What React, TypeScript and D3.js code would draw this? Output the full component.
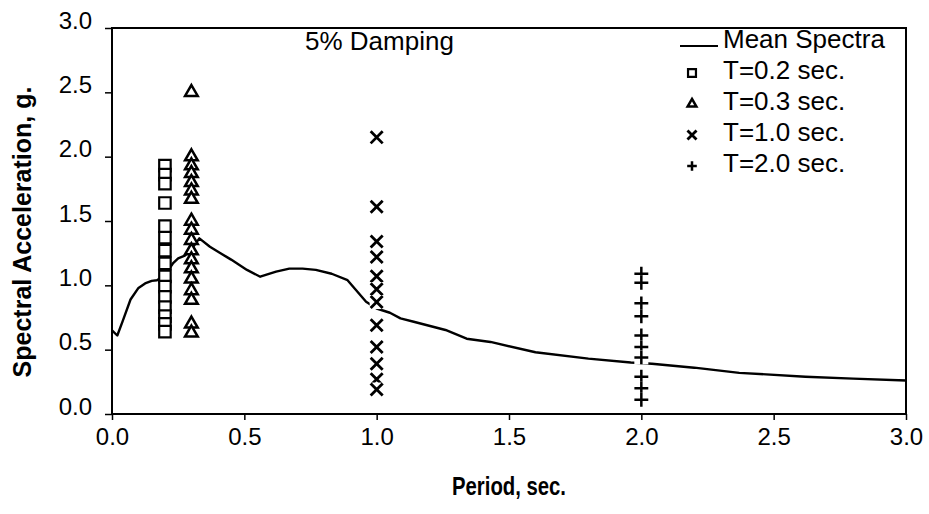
import React, { useRef, useEffect } from 'react';
import * as d3 from 'd3';

// mean spectrum (period in sec, spectral acceleration in g)
const meanPeriods = [0, 0.02, 0.04, 0.07, 0.1, 0.125, 0.15, 0.17, 0.2, 0.23, 0.25, 0.275, 0.3, 0.33, 0.37, 0.41, 0.45, 0.51, 0.56, 0.62, 0.67, 0.72, 0.77, 0.83, 0.89, 0.96, 1.0, 1.05, 1.09, 1.14, 1.26, 1.34, 1.43, 1.6, 1.8, 1.96, 2.04, 2.2, 2.37, 2.62, 2.8, 3.0];
const meanSa = [0.65, 0.61, 0.72, 0.89, 0.98, 1.015, 1.035, 1.04, 1.08, 1.17, 1.21, 1.23, 1.28, 1.365, 1.3, 1.25, 1.2, 1.12, 1.067, 1.106, 1.13, 1.13, 1.12, 1.09, 1.04, 0.873, 0.82, 0.787, 0.743, 0.717, 0.653, 0.585, 0.56, 0.48, 0.43, 0.4, 0.39, 0.36, 0.32, 0.29, 0.275, 0.26];

// individual records at each period
const sa02 = [1.93, 1.86, 1.79, 1.64, 1.46, 1.37, 1.27, 1.17, 1.07, 0.99, 0.91, 0.83, 0.76, 0.7, 0.64];
const sa03 = [2.5, 2.0, 1.93, 1.87, 1.8, 1.735, 1.67, 1.5, 1.43, 1.35, 1.27, 1.2, 1.13, 1.05, 0.96, 0.885, 0.7, 0.63];
const sa10 = [2.15, 1.61, 1.34, 1.22, 1.07, 0.97, 0.87, 0.69, 0.52, 0.39, 0.27, 0.19];
const sa20 = [1.09, 1.02, 0.86, 0.76, 0.61, 0.52, 0.44, 0.29, 0.2, 0.11];

const tickValues = [0, 0.5, 1, 1.5, 2, 2.5, 3];
const legendLabels = ['Mean Spectra', 'T=0.2 sec.', 'T=0.3 sec.', 'T=1.0 sec.', 'T=2.0 sec.'];

const FONT = 'Liberation Sans, Arial, Helvetica, sans-serif';

const App = () => {
  const chartRef = useRef<SVGSVGElement>(null);

  useEffect(() => {
    const margin = { top: 28, right: 23, bottom: 100, left: 112 };
    const width = 929 - margin.left - margin.right;
    const height = 514 - margin.top - margin.bottom;

    const root = d3.select(chartRef.current);
    root.selectAll('*').remove();

    const svg = root
      .append('g')
      .attr('transform', `translate(${margin.left}, ${margin.top})`);

    const x = d3.scaleLinear().domain([0, 3]).range([0, width]);
    const y = d3.scaleLinear().domain([0, 3]).range([height, 0]);
    const fmt = d3.format('.1f');

    // y axis
    svg
      .append('g')
      .call(d3.axisLeft(y).tickValues(tickValues).tickFormat(fmt).tickSize(7).tickSizeOuter(0).tickPadding(13))
      .call((g) => g.select('.domain').remove())
      .call((g) => g.selectAll('.tick line').attr('stroke', '#000').attr('stroke-width', 1.5))
      .call((g) =>
        g
          .selectAll('text')
          .attr('dy', '0')
          .attr('fill', '#000')
          .attr('font-size', 24)
          .attr('font-family', FONT)
      );

    // x axis
    svg
      .append('g')
      .attr('transform', `translate(0, ${height})`)
      .call(d3.axisBottom(x).tickValues(tickValues).tickFormat(fmt).tickSize(6).tickSizeOuter(0).tickPadding(25))
      .call((g) => g.select('.domain').remove())
      .call((g) => g.selectAll('.tick line').attr('stroke', '#000').attr('stroke-width', 1.5))
      .call((g) =>
        g
          .selectAll('text')
          .attr('dy', '0')
          .attr('fill', '#000')
          .attr('font-size', 24)
          .attr('font-family', FONT)
      );

    // frame
    svg
      .append('rect')
      .attr('width', width)
      .attr('height', height)
      .attr('fill', 'none')
      .attr('stroke', '#000')
      .attr('stroke-width', 2);

    // mean spectrum
    const meanData = meanPeriods.map((t, i) => [t, meanSa[i]] as [number, number]);
    svg
      .append('path')
      .datum(meanData)
      .attr('fill', 'none')
      .attr('stroke', '#000')
      .attr('stroke-width', 2.4)
      .attr('stroke-linejoin', 'round')
      .attr('d', d3.line().x((d) => x(d[0])).y((d) => y(d[1])));

    const series = [
      { period: 0.2, values: sa02, symbol: d3.symbolSquare2, size: 168, legendSize: 80, sw: 2.2, bg: 0 },
      { period: 0.3, values: sa03, symbol: d3.symbolTriangle2, size: 115, legendSize: 55, sw: 2.5, bg: 0 },
      { period: 1.0, values: sa10, symbol: d3.symbolTimes, size: 96, legendSize: 55, sw: 2.8, bg: 14 },
      { period: 2.0, values: sa20, symbol: d3.symbolPlus, size: 65, legendSize: 32, sw: 2.5, bg: 14 },
    ];

    // each marker has a white back, so later markers hide parts of earlier ones
    series.forEach((s) => {
      const marks = svg
        .append('g')
        .selectAll('g')
        .data(s.values)
        .join('g')
        .attr('transform', (d) => `translate(${x(s.period)}, ${y(d)})`);
      if (s.bg > 0) {
        marks
          .append('rect')
          .attr('x', -s.bg / 2)
          .attr('y', -s.bg / 2)
          .attr('width', s.bg)
          .attr('height', s.bg)
          .attr('fill', '#fff');
      }
      marks
        .append('path')
        .attr('d', d3.symbol().type(s.symbol).size(s.size)())
        .attr('fill', '#fff')
        .attr('stroke', '#000')
        .attr('stroke-width', s.sw);
    });

    // annotation
    svg
      .append('text')
      .attr('x', 305 - margin.left)
      .attr('y', 50 - margin.top)
      .attr('font-size', 26)
      .attr('font-family', FONT)
      .text('5% Damping');

    // legend
    const legend = root.append('g').attr('transform', 'translate(680, 48)');
    const rowH = 31;
    legend
      .append('line')
      .attr('x1', 0)
      .attr('x2', 38)
      .attr('y1', -2)
      .attr('y2', -2)
      .attr('stroke', '#000')
      .attr('stroke-width', 2);
    legend
      .selectAll('text')
      .data(legendLabels)
      .join('text')
      .attr('x', 43)
      .attr('y', (d, i) => i * rowH)
      .attr('font-size', 26)
      .attr('font-family', FONT)
      .text((d) => d);
    legend
      .selectAll('path.mark')
      .data(series)
      .join('path')
      .attr('class', 'mark')
      .attr('transform', (d, i) => `translate(12, ${(i + 1) * rowH - 6})`)
      .attr('d', (d) => d3.symbol().type(d.symbol).size(d.legendSize)())
      .attr('fill', 'none')
      .attr('stroke', '#000')
      .attr('stroke-width', (d) => d.sw);

    // axis titles
    root
      .append('text')
      .attr('transform', `translate(31, ${margin.top + height / 2 + 11}) rotate(-90)`)
      .attr('text-anchor', 'middle')
      .attr('font-size', 25)
      .attr('font-weight', 'bold')
      .attr('font-family', FONT)
      .text('Spectral Acceleration, g.');

    root
      .append('text')
      .attr('x', margin.left + width / 2)
      .attr('y', 495)
      .attr('text-anchor', 'middle')
      .attr('font-size', 25)
      .attr('font-weight', 'bold')
      .attr('font-family', FONT)
      .attr('textLength', 114)
      .attr('lengthAdjust', 'spacingAndGlyphs')
      .text('Period, sec.');
  }, []);

  return (
    <svg
      ref={chartRef}
      width={929}
      height={514}
      style={{ position: 'absolute', left: 0, top: 0, background: '#fff' }}
    />
  );
};

export default App;
